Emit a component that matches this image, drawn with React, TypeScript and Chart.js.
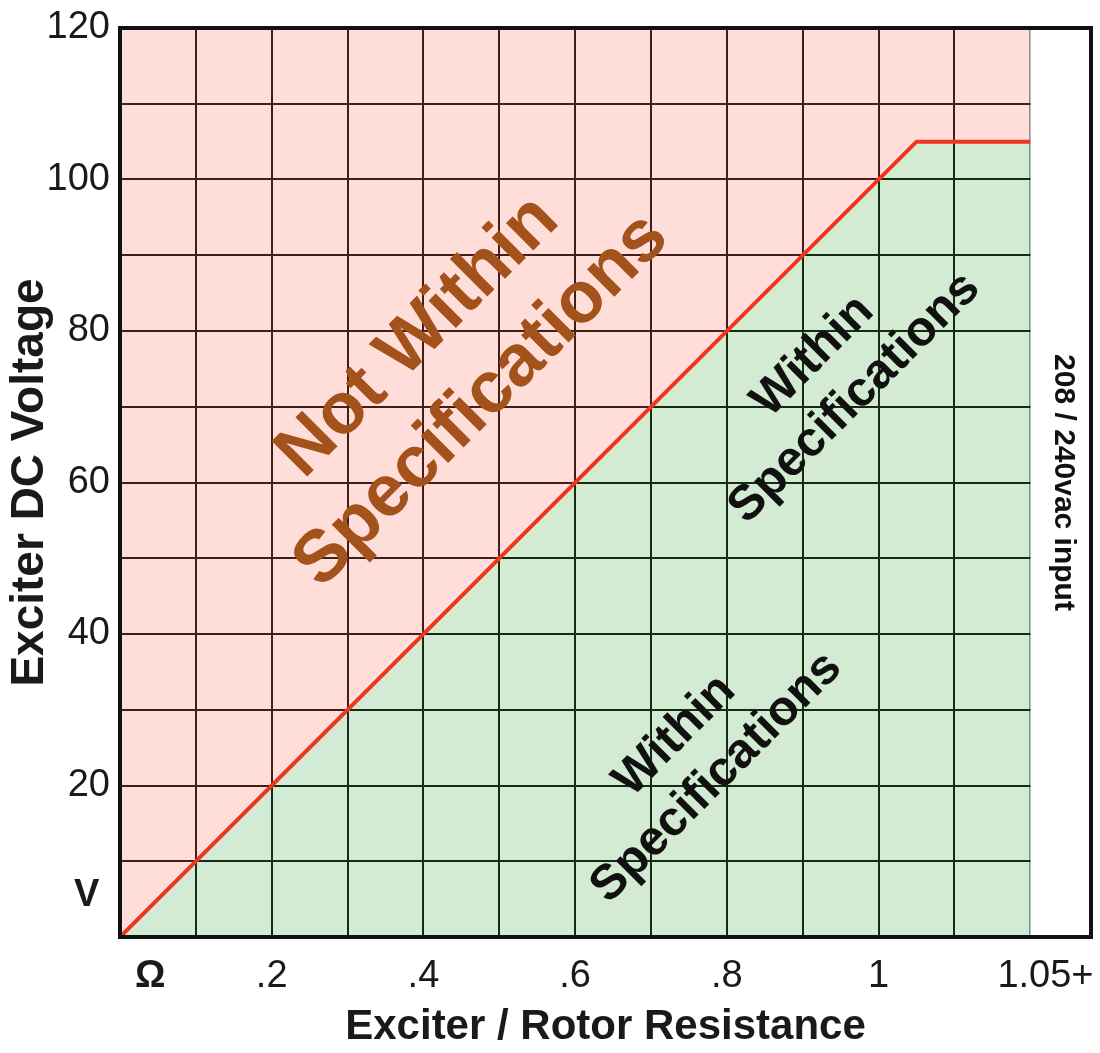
import React, { useEffect, useRef } from 'react';
import { Chart, registerables } from 'chart.js';

Chart.register(...registerables);

// ---- data ----
const limitX = [0, 1.05, 1.2];
const limitY = [0, 105, 105];
const inputBandX = [1.2, 1.28];
const inputBandY = [120, 120];

const xTickValues = [0, 0.04, 0.1, 0.2, 0.3, 0.4, 0.5, 0.6, 0.7, 0.8, 0.9, 1.0, 1.1, 1.2, 1.22];
const xTickLabels = ['', 'Ω', '', '.2', '', '.4', '', '.6', '', '.8', '', '1', '', '', '1.05+'];
const xLabelOnly = [0.04, 1.22];
const xBoldLabels = [0.04];

const yTickValues = [0, 5.5, 10, 20, 30, 40, 50, 60, 70, 80, 90, 100, 110, 120];
const yTickLabels = ['', 'V ', '', '20', '', '40', '', '60', '', '80', '', '100', '', '120'];
const yLabelOnly = [5.5];

const noteLines = [
  ['Not Within', 'Specifications'],
  ['Within', 'Specifications'],
  ['Within', 'Specifications'],
];
const noteX = [0.435, 0.759, 0.941];
const noteY = [75.0, 23.8, 73.9];

const sideNote = '208 / 240vac input';
const sideNoteX = 1.243;
const sideNoteY = 60;

const FONT = '"Liberation Sans", Arial, Helvetica, sans-serif';

export default function App() {
  const ref = useRef<HTMLCanvasElement | null>(null);

  useEffect(() => {
    document.body.style.margin = '0';
    const canvas = ref.current;
    if (!canvas) return;

    const notesPlugin = {
      id: 'notes',
      afterDatasetsDraw(chart: any) {
        const { ctx, scales } = chart;
        const xs = scales.x;
        const ys = scales.y;
        const styles = [
          { size: 73, color: '#a3521c', lh: 90 },
          { size: 49, color: '#111111', lh: 59 },
          { size: 49, color: '#111111', lh: 59 },
        ];
        noteLines.forEach((lines, i) => {
          const st = styles[i];
          const px = xs.getPixelForValue(noteX[i]);
          const py = ys.getPixelForValue(noteY[i]);
          ctx.save();
          ctx.translate(px, py);
          ctx.rotate((-45 * Math.PI) / 180);
          ctx.fillStyle = st.color;
          ctx.font = `bold ${st.size}px ${FONT}`;
          ctx.textAlign = 'center';
          ctx.textBaseline = 'middle';
          lines.forEach((t, j) => {
            ctx.fillText(t, 0, (j - (lines.length - 1) / 2) * st.lh);
          });
          ctx.restore();
        });
        // side note
        const sx = xs.getPixelForValue(sideNoteX);
        const sy = ys.getPixelForValue(sideNoteY);
        ctx.save();
        ctx.translate(sx, sy);
        ctx.rotate(Math.PI / 2);
        ctx.fillStyle = '#111111';
        ctx.font = `bold 30px ${FONT}`;
        ctx.textAlign = 'center';
        ctx.textBaseline = 'middle';
        ctx.fillText(sideNote, 0, 0);
        ctx.restore();
      },
      afterDraw(chart: any) {
        const { ctx, chartArea } = chart;
        ctx.save();
        ctx.strokeStyle = '#111111';
        ctx.lineWidth = 4;
        ctx.strokeRect(
          chartArea.left,
          chartArea.top,
          chartArea.right - chartArea.left,
          chartArea.bottom - chartArea.top
        );
        ctx.restore();
      },
    };

    const limitPoints = limitX.map((x, i) => ({ x, y: limitY[i] }));
    const bandPoints = inputBandX.map((x, i) => ({ x, y: inputBandY[i] }));

    const chart = new Chart(canvas, {
      type: 'line',
      data: {
        datasets: [
          {
            label: 'Limit',
            data: limitPoints,
            borderColor: '#ee3520',
            borderWidth: 4,
            pointRadius: 0,
            tension: 0,
            fill: 'origin',
            backgroundColor: 'rgba(79,171,79,0.25)',
          },
          {
            label: 'Not within',
            data: limitPoints,
            borderWidth: 0,
            borderColor: 'rgba(0,0,0,0)',
            pointRadius: 0,
            tension: 0,
            fill: 'end',
            backgroundColor: 'rgba(255,123,107,0.25)',
          },
          {
            label: 'Input band',
            data: bandPoints,
            borderWidth: 0,
            borderColor: 'rgba(0,0,0,0)',
            pointRadius: 0,
            fill: 'origin',
            backgroundColor: '#ffffff',
          },
        ],
      },
      options: {
        responsive: false,
        animation: false,
        devicePixelRatio: 1,
        layout: { padding: { top: 28, right: 9, left: 0, bottom: 0 } },
        plugins: {
          legend: { display: false },
          tooltip: { enabled: false },
        },
        scales: {
          x: {
            type: 'linear',
            min: 0,
            max: 1.28,
            afterBuildTicks: (scale: any) => {
              scale.ticks = xTickValues.map((v) => ({ value: v }));
            },
            afterFit: (scale: any) => {
              scale.height = 116;
              scale.paddingLeft = 0;
              scale.paddingRight = 0;
            },
            border: { display: false },
            grid: {
              drawTicks: false,
              color: (c: any) => {
                const v = c.tick ? c.tick.value : 0;
                if (xLabelOnly.includes(v)) return 'rgba(0,0,0,0)';
                if (Math.abs(v - 1.2) < 1e-6) return '#7d8c8c';
                return '#000000';
              },
              lineWidth: 2,
            },
            ticks: {
              autoSkip: false,
              maxRotation: 0,
              padding: 17,
              color: '#1a1a1a',
              font: (c: any) => ({
                family: FONT,
                size: 38,
                weight: c.tick && xBoldLabels.includes(c.tick.value) ? 'bold' : 'normal',
              }),
              callback: (_v: any, i: number) => xTickLabels[i],
            },
            title: {
              display: true,
              text: 'Exciter / Rotor Resistance',
              color: '#1a1a1a',
              font: { family: FONT, size: 42, weight: 'bold' },
              padding: { top: 0, bottom: 0 },
            },
          },
          y: {
            type: 'linear',
            min: 0,
            max: 120,
            afterBuildTicks: (scale: any) => {
              scale.ticks = yTickValues.map((v) => ({ value: v }));
            },
            afterFit: (scale: any) => {
              scale.width = 120;
              scale.paddingTop = 0;
              scale.paddingBottom = 0;
            },
            border: { display: false },
            grid: {
              drawTicks: false,
              color: (c: any) => {
                const v = c.tick ? c.tick.value : 0;
                if (yLabelOnly.includes(v)) return 'rgba(0,0,0,0)';
                return '#000000';
              },
              lineWidth: 2,
            },
            ticks: {
              autoSkip: false,
              padding: 10,
              color: '#1a1a1a',
              font: (c: any) => ({
                family: FONT,
                size: 38,
                weight: c.tick && yLabelOnly.includes(c.tick.value) ? 'bold' : 'normal',
              }),
              callback: (_v: any, i: number) => yTickLabels[i],
            },
            title: {
              display: true,
              text: 'Exciter DC Voltage',
              color: '#1a1a1a',
              font: { family: FONT, size: 46, weight: 'bold' },
              padding: { top: 3, bottom: 0 },
            },
          },
        },
      },
      plugins: [notesPlugin],
    } as any);

    return () => chart.destroy();
  }, []);

  return (
    <div style={{ width: 1100, height: 1053 }}>
      <canvas ref={ref} width={1100} height={1053} style={{ display: 'block' }} />
    </div>
  );
}
